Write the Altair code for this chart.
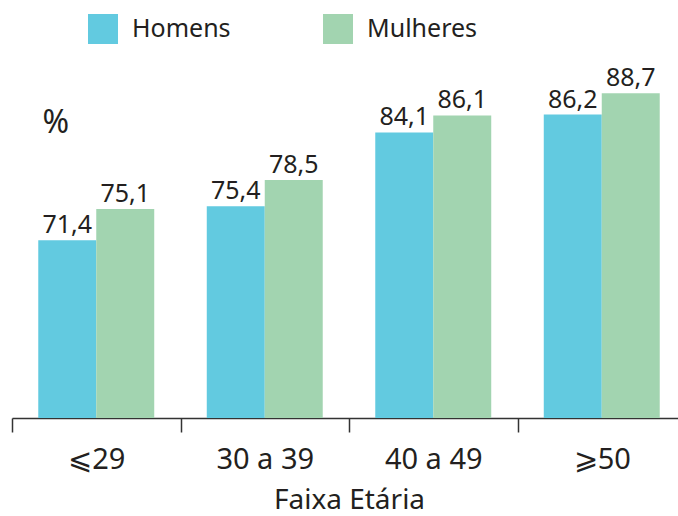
import altair as alt
import pandas as pd

grupos = ["⩽29", "30 a 39", "40 a 49", "⩾50"]
sexos = ["Homens", "Mulheres"]
homens = [71.4, 75.4, 84.1, 86.2]
mulheres = [75.1, 78.5, 86.1, 88.7]
cores = ["#62cae0", "#a2d4b0"]

rows = []
for g, h, m in zip(grupos, homens, mulheres):
    for s, v in zip(sexos, [h, m]):
        rows.append({"faixa": g, "sexo": s, "valor": v,
                     "rotulo": f"{v:.1f}".replace(".", ",")})
df = pd.DataFrame(rows)

FONT = "Noto Sans"
TXT = "#231f20"

x = alt.X("faixa:N", sort=grupos, title="Faixa Etária",
          scale=alt.Scale(paddingInner=0, paddingOuter=0, range=[0, 674]),
          axis=alt.Axis(labelAngle=0, tickBand="extent", tickSize=14, tickWidth=1.5,
                        tickColor="#333333", domainColor="#333333", domainWidth=1.5,
                        labelFontSize=29, labelPadding=13, labelColor=TXT, labelFont=FONT,
                        titleFontSize=28, titleFont=FONT, titleColor=TXT, titleFontWeight="normal",
                        titleBaseline="alphabetic", titleY=90, grid=False))
xo = alt.XOffset("sexo:N", sort=sexos, scale=alt.Scale(paddingInner=0, paddingOuter=0.453))
y = alt.Y("valor:Q",
          scale=alt.Scale(domain=[50.5, 92.5], zero=False, nice=False, clamp=True),
          axis=alt.Axis(title="%", labels=False, ticks=False, domain=False, grid=False,
                        titleAngle=0, titleAlign="left", titleBaseline="alphabetic",
                        titleX=30, titleY=71, titleFontSize=32, titleFont=FONT,
                        titleColor=TXT, titleFontWeight="normal"))
color = alt.Color("sexo:N", sort=sexos, scale=alt.Scale(domain=sexos, range=cores),
                  legend=alt.Legend(title=None, orient="none", direction="horizontal",
                                    legendX=76, legendY=-47, symbolType="square",
                                    symbolSize=900, symbolStrokeWidth=0, symbolOpacity=1,
                                    labelFontSize=25, labelFont=FONT, labelColor=TXT,
                                    labelOffset=14, columnPadding=92, padding=0))

bars = alt.Chart(df).mark_bar().encode(x=x, xOffset=xo, y=y, color=color)
labels = alt.Chart(df).mark_text(baseline="alphabetic", dy=-7, fontSize=25, font=FONT,
                                 color=TXT).encode(x=x, xOffset=xo, y=y, text="rotulo:N")

chart = (bars + labels).properties(
    width=666, height=357,
    autosize=alt.AutoSizeParams(type="none"),
    padding={"left": 12, "top": 61, "right": 0, "bottom": 98},
    background="white",
).configure_view(stroke=None)

chart.save("out.html", embed_options={"renderer": "svg", "actions": False})
